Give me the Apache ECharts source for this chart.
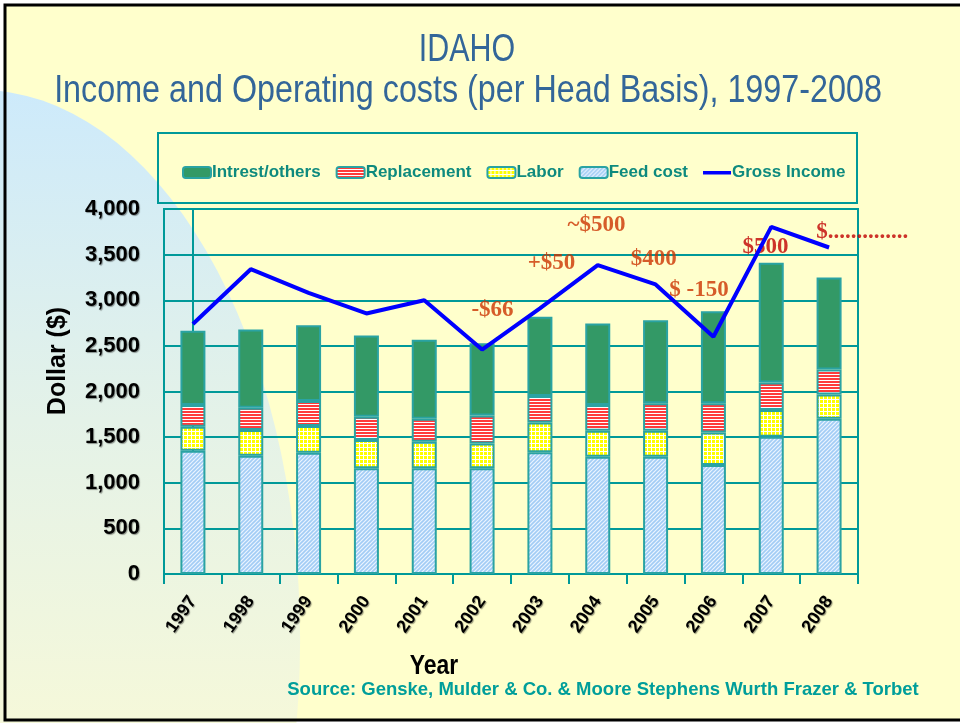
<!DOCTYPE html>
<html>
<head>
<meta charset="utf-8">
<script src="https://cdn.jsdelivr.net/npm/echarts@6/dist/echarts.min.js"></script>
<style>
  html, body { margin: 0; padding: 0; background: #fff; }
  #chart { width: 960px; height: 723px; }
</style>
</head>
<body>
<div id="chart"></div>
<script>
const years = ["1997", "1998", "1999", "2000", "2001", "2002", "2003", "2004", "2005", "2006", "2007", "2008"];
const feedCost = [1350, 1296, 1329, 1158, 1158, 1158, 1333, 1285, 1285, 1194, 1504, 1701];
const labor = [263, 281, 292, 310, 291, 273, 328, 285, 285, 358, 292, 267];
const replacement = [238, 244, 274, 255, 252, 307, 289, 281, 300, 318, 304, 274];
const interest = [814, 859, 832, 891, 865, 792, 870, 895, 912, 1010, 1310, 1008];
const grossIncome = [2740, 3340, 3080, 2855, 3000, 2460, 2910, 3384, 3173, 2600, 3804, 3578];

// hand-written notes on the chart, placed in data units (x = year index)
const noteX = [5.18, 6.2, 6.98, 7.97, 8.75, 9.9, 10.78];
const noteY = [2891, 3406, 3822, 3450, 3110, 3585, 3749];
const noteText = ["-$66", "+$50", "~$500", "$400", "$ -150", "$500", "$.............."];

const TEAL = "#009999";
const SANS = "'Liberation Sans', Arial, sans-serif";

function pattern(w, h, draw) {
  const c = document.createElement("canvas");
  c.width = w;
  c.height = h;
  draw(c.getContext("2d"));
  return { image: c, repeat: "repeat" };
}

const feedFill = pattern(4, 4, (ctx) => {
  ctx.fillStyle = "#EAF4FF";
  ctx.fillRect(0, 0, 4, 4);
  ctx.strokeStyle = "#A2CCF5";
  ctx.lineWidth = 1.6;
  ctx.beginPath();
  ctx.moveTo(0, 4); ctx.lineTo(4, 0);
  ctx.moveTo(-1, 1); ctx.lineTo(1, -1);
  ctx.moveTo(3, 5); ctx.lineTo(5, 3);
  ctx.stroke();
});
const laborFill = pattern(4, 4, (ctx) => {
  ctx.fillStyle = "#FFFFFF";
  ctx.fillRect(0, 0, 4, 4);
  ctx.fillStyle = "#FFFF00";
  ctx.fillRect(0, 0, 3, 3);
});
const replFill = pattern(3, 3, (ctx) => {
  ctx.fillStyle = "#FFFFFF";
  ctx.fillRect(0, 0, 3, 3);
  ctx.fillStyle = "#FF3B3B";
  ctx.fillRect(0, 0, 3, 2);
});

const chart = echarts.init(document.getElementById("chart"));

const barStyle = (fill) => ({ color: fill, borderColor: "#2AA3A3", borderWidth: 2 });

const titleFont = (size) => size + "px " + SANS;

chart.setOption({
  backgroundColor: "#FFFFFF",
  animation: false,
  graphic: [
    {
      type: "rect", z: -10, silent: true,
      shape: { x: 5, y: 5, width: 970, height: 715 },
      style: { fill: "#FFFFCC", stroke: null },
    },
    {
      type: "circle", z: -9, silent: true,
      x: -20, y: 640, scaleX: 0.582,
      shape: { cx: 0, cy: 0, r: 550 },
      style: {
        fill: new echarts.graphic.LinearGradient(0, 0, 0, 1, [
          { offset: 0, color: "#CDEAFB" },
          { offset: 0.3, color: "#E4F2E8" },
          { offset: 0.57, color: "#F5F8DA" },
          { offset: 1, color: "#F5F8DA" },
        ]),
      },
    },
    {
      type: "rect", z: 100, silent: true,
      shape: { x: 5, y: 5, width: 970, height: 715 },
      style: { fill: null, stroke: "#000000", lineWidth: 3 },
    },
    {
      type: "rect", z: 1, silent: true,
      shape: { x: 158, y: 133, width: 699, height: 70 },
      style: { fill: null, stroke: TEAL, lineWidth: 2 },
    },
    {
      type: "text", silent: true, z: 10,
      x: 467, y: 50, scaleX: 0.78,
      style: { text: "IDAHO", fill: "#336699", align: "center", verticalAlign: "middle", font: titleFont(39) },
    },
    {
      type: "text", silent: true, z: 10,
      x: 468, y: 92, scaleX: 0.85,
      style: {
        text: "Income and Operating costs (per Head Basis), 1997-2008",
        fill: "#336699", align: "center", verticalAlign: "middle", font: titleFont(38),
      },
    },
    {
      type: "text", silent: true,
      x: 58, y: 361, rotation: Math.PI / 2,
      style: {
        text: "Dollar ($)", fill: "#000", align: "center", verticalAlign: "middle",
        font: "bold 25px " + SANS,
      },
    },
    {
      type: "text", silent: true,
      x: 434, y: 667, scaleX: 0.85,
      style: {
        text: "Year", fill: "#000", align: "center", verticalAlign: "middle",
        font: "bold 27px " + SANS,
      },
    },
    {
      type: "text", silent: true,
      x: 603, y: 690,
      style: {
        text: "Source: Genske, Mulder & Co. & Moore Stephens Wurth Frazer & Torbet",
        fill: "#009E9A", align: "center", verticalAlign: "middle",
        font: "bold 18.5px " + SANS,
      },
    },
  ],
  legend: {
    data: [
      "Intrest/others", "Replacement", "Labor", "Feed cost",
      { name: "Gross Income", icon: "path://M0,0L0.01,0Z M0,11L0.01,11Z M0,4L28,4L28,7.5L0,7.5Z" },
    ],
    left: 177, top: 159,
    itemWidth: 28, itemHeight: 11, itemGap: 15,
    textStyle: {
      color: "#0E8A7E", fontSize: 17, fontWeight: "bold", padding: [0, 0, 0, -4],
      fontFamily: SANS,
    },
  },
  grid: { left: 164, right: 102, top: 209, bottom: 149, show: true, borderColor: TEAL, borderWidth: 2, backgroundColor: "transparent" },
  xAxis: [
    {
      type: "category",
      data: years,
      axisLine: { lineStyle: { color: TEAL, width: 2 } },
      axisTick: { show: true, length: 10, lineStyle: { color: TEAL, width: 2 } },
      axisLabel: {
        rotate: 55, margin: 24, color: "#000", fontSize: 18, fontWeight: "bold",
        fontFamily: SANS,
        textShadowColor: "rgba(0,0,0,0.4)", textShadowBlur: 1, textShadowOffsetX: 1, textShadowOffsetY: 1,
      },
    },
    { type: "value", min: -0.5, max: 11.5, show: false },
  ],
  yAxis: {
    type: "value",
    min: 0, max: 4000, interval: 500,
    axisLine: { show: true, lineStyle: { color: TEAL, width: 2 } },
    axisTick: { show: true, length: 8, lineStyle: { color: TEAL, width: 2 } },
    splitLine: { lineStyle: { color: TEAL, width: 2 } },
    axisLabel: {
      color: "#000", fontSize: 22, fontWeight: "bold", margin: 24,
      fontFamily: SANS,
      formatter: (v) => v.toLocaleString("en-US"),
      textShadowColor: "rgba(0,0,0,0.4)", textShadowBlur: 1, textShadowOffsetX: 1, textShadowOffsetY: 1,
    },
  },
  series: [
    { name: "Feed cost", type: "bar", stack: "cost", barWidth: 25, data: feedCost, itemStyle: barStyle(feedFill) },
    { name: "Labor", type: "bar", stack: "cost", data: labor, itemStyle: barStyle(laborFill) },
    { name: "Replacement", type: "bar", stack: "cost", data: replacement, itemStyle: barStyle(replFill) },
    { name: "Intrest/others", type: "bar", stack: "cost", data: interest, itemStyle: barStyle("#339966") },
    {
      name: "notes", type: "scatter", xAxisIndex: 1, symbolSize: 0, z: 3, silent: true,
      data: noteX.map((x, i) => ({
        value: [x, noteY[i]],
        label: {
          show: true, position: "inside", formatter: noteText[i],
          align: i === noteText.length - 1 ? "left" : "center",
          color: i >= 5 ? "#C00000" : "#CC3300",
          fontSize: 23, fontWeight: "bold", fontFamily: "'Liberation Serif', 'Times New Roman', serif",
        },
      })),
    },
    {
      name: "Gross Income", type: "line", data: grossIncome, z: 5,
      symbol: "none", lineStyle: { color: "#0000FF", width: 4 }, itemStyle: { color: "#0000FF" },
    },
  ],
});
</script>
</body>
</html>
